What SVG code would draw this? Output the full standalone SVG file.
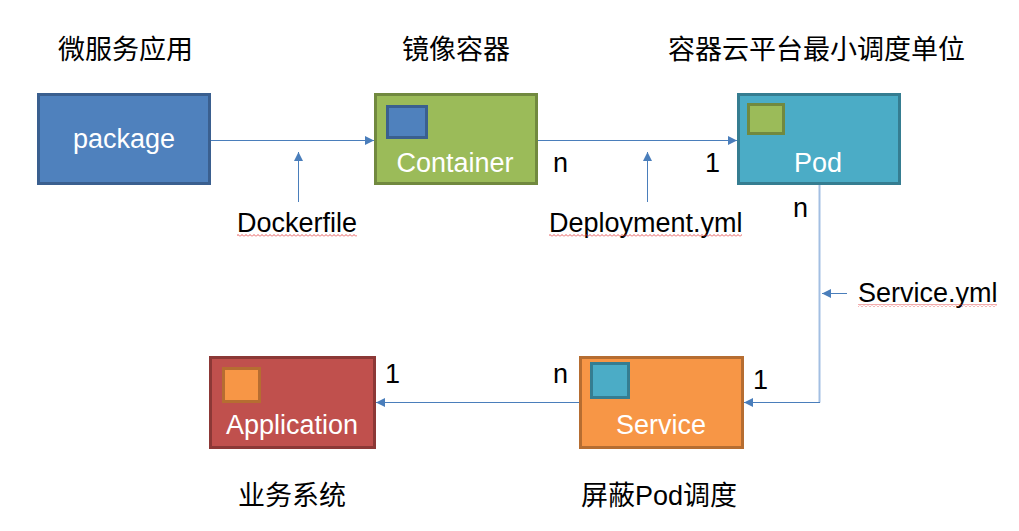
<svg xmlns="http://www.w3.org/2000/svg" width="1019" height="531" viewBox="0 0 1019 531">
<style>
.t{font-family:"Liberation Sans",Arial,sans-serif;font-size:27px;fill:#000}
.w{font-family:"Liberation Sans",Arial,sans-serif;font-size:27px;fill:#fff;text-anchor:middle}
.cn{font-family:"Liberation Sans","Noto Sans CJK SC",sans-serif;font-size:27px;fill:#000}
.box{stroke-width:3}
.blue{fill:#4f81bd;stroke:#3a5f8f}
.green{fill:#9bbb59;stroke:#71893f}
.teal{fill:#4bacc6;stroke:#357d91}
.red{fill:#c0504d;stroke:#8c3836}
.orange{fill:#f79646;stroke:#b66d31}
.ln{stroke:#4a7ebb;stroke-width:1;fill:none}
</style>
<defs>
<marker id="ah" viewBox="0 0 10 10" refX="10" refY="5" markerWidth="9" markerHeight="9" markerUnits="userSpaceOnUse" orient="auto">
<path d="M0,0 L10,5 L0,10 Z" fill="#4a7ebb"/>
</marker>
<pattern id="wave" width="4" height="3" patternUnits="userSpaceOnUse">
<path d="M0,2.5 L2,0.5 L4,2.5" stroke="#e03030" stroke-width="0.8" fill="none"/>
</pattern>
</defs>
<rect width="1019" height="531" fill="#fff"/>

<g id="connectors">
<line class="ln" x1="211" y1="140.5" x2="374" y2="140.5" marker-end="url(#ah)"/>
<line class="ln" x1="298.5" y1="202" x2="298.5" y2="152" marker-end="url(#ah)"/>
<line class="ln" x1="538" y1="140.5" x2="737" y2="140.5" marker-end="url(#ah)"/>
<line class="ln" x1="647.5" y1="202" x2="647.5" y2="152" marker-end="url(#ah)"/>
<line x1="819.5" y1="185" x2="819.5" y2="402.5" stroke="#a3bfe2" stroke-width="2"/>
<line class="ln" x1="820" y1="402.5" x2="744" y2="402.5" marker-end="url(#ah)"/>
<line class="ln" x1="847" y1="293.5" x2="822" y2="293.5" marker-end="url(#ah)"/>
<line class="ln" x1="579" y1="402.5" x2="376" y2="402.5" marker-end="url(#ah)"/>
<text class="t" x="553" y="172">n</text>
<text class="t" x="705" y="172">1</text>
<text class="t" x="793" y="217">n</text>
<text class="t" x="385" y="383">1</text>
<text class="t" x="553" y="383">n</text>
<text class="t" x="753" y="389">1</text>
<text class="t" x="237" y="232">Dockerfile</text>
<rect x="237" y="234" width="120" height="3" fill="url(#wave)"/>
<text class="t" x="549" y="232">Deployment.yml</text>
<rect x="549" y="234" width="193" height="3" fill="url(#wave)"/>
<text class="t" x="858" y="302">Service.yml</text>
<rect x="858" y="304" width="139" height="3" fill="url(#wave)"/>
</g>

<g id="title-microservice"><text class="cn" x="58" y="59">微服务应用</text></g>
<g id="title-image"><text class="cn" x="402" y="59">镜像容器</text></g>
<g id="title-pod"><text class="cn" x="668" y="59">容器云平台最小调度单位</text></g>

<g id="package">
<rect class="box blue" x="38.5" y="94.5" width="171" height="89"/>
<text class="w" x="124" y="148">package</text>
</g>

<g id="container">
<rect class="box green" x="375.5" y="94.5" width="161" height="89"/>
<rect class="box blue" x="387.5" y="106.5" width="39" height="31"/>
<text class="w" x="455" y="172">Container</text>
</g>

<g id="pod">
<rect class="box teal" x="738.5" y="94.5" width="161" height="89"/>
<rect class="box green" x="748.5" y="104.5" width="35" height="29"/>
<text class="w" x="818" y="172">Pod</text>
</g>

<g id="application">
<rect class="box red" x="210.5" y="357.5" width="164" height="90"/>
<rect class="box orange" x="223.5" y="368.5" width="36" height="33"/>
<text class="w" x="292" y="434">Application</text>
<text class="cn" x="238" y="505">业务系统</text>
</g>

<g id="service">
<rect class="box orange" x="580.5" y="357.5" width="162" height="90"/>
<rect class="box teal" x="591.5" y="363.5" width="37" height="34"/>
<text class="w" x="661" y="434">Service</text>
<text class="cn" x="581" y="505">屏蔽Pod调度</text>
</g>
</svg>
